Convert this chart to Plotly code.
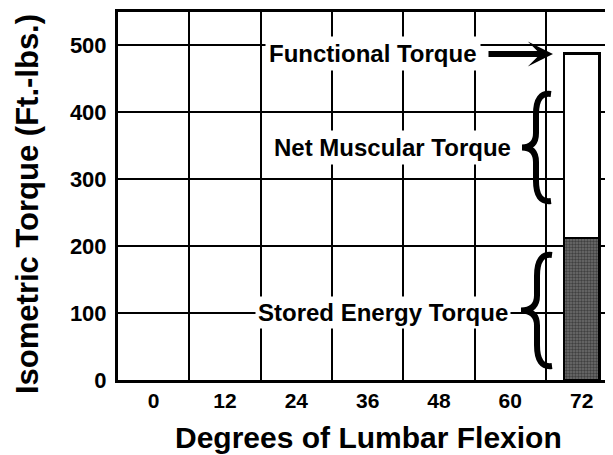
import plotly.graph_objects as go

# ---- data ----
categories = ["0", "12", "24", "36", "48", "60", "72"]
stored_energy = [None, None, None, None, None, None, 212]
net_muscular = [None, None, None, None, None, None, 275]
y_ticks = [0, 100, 200, 300, 400, 500]

# ---- layout geometry ----
# The page body has an 8px default margin, so the figure is shrunk and
# all reference pixel positions are shifted by that offset.
OFF = 8
W, H = 613 - OFF, 455 - OFF
L, T = 118 - OFF, 12 - OFF
BOTTOM = 380 - OFF
R = 0
B = H - BOTTOM
PW, PH = W - L - R, H - T - B


def px(x):
    return (x - OFF - L) / PW


def py(y):
    return (BOTTOM - (y - OFF)) / PH


def brace_path(xt, xv, x1, yt, yb):
    h = yb - yt
    ym = (yt + yb) / 2
    pts = [
        ("M", [(x1, yt + 2)]),
        ("Q", [(xv, yt), (xv, yt + 0.2 * h)]),
        ("L", [(xv, ym - 0.13 * h)]),
        ("Q", [(xv, ym), (xt, ym)]),
        ("Q", [(xv, ym), (xv, ym + 0.13 * h)]),
        ("L", [(xv, yb - 0.2 * h)]),
        ("Q", [(xv, yb), (x1, yb - 2)]),
    ]
    s = ""
    for cmd, ps in pts:
        s += cmd + " ".join(f"{px(a):.5f},{py(b):.5f}" for a, b in ps) + " "
    return s.strip()


FONT = "Liberation Sans, Arial, Helvetica, sans-serif"

fig = go.Figure()
fig.add_trace(go.Bar(
    x=categories, y=stored_energy, width=0.5,
    marker=dict(
        color="#666666",
        line=dict(color="black", width=2.5),
        pattern=dict(shape=".", fgcolor="#111111", bgcolor="#6e6e6e", size=3, solidity=0.5),
    ),
    showlegend=False, hoverinfo="skip",
))
fig.add_trace(go.Bar(
    x=categories, y=net_muscular, width=0.5,
    marker=dict(color="white", line=dict(color="black", width=2.5)),
    showlegend=False, hoverinfo="skip",
))

shapes = [
    dict(type="path", xref="paper", yref="paper",
         path=brace_path(522, 536, 551, 92, 203),
         line=dict(color="black", width=6), layer="above"),
    dict(type="path", xref="paper", yref="paper",
         path=brace_path(521, 537, 552, 253, 368),
         line=dict(color="black", width=6), layer="above"),
]

ann_font = dict(family=FONT, size=24, color="black", weight="bold")
annotations = [
    dict(text="Functional Torque", x=px(373), y=py(54), xref="paper", yref="paper",
         showarrow=False, font=ann_font, bgcolor="white", borderpad=3,
         xanchor="center", yanchor="middle"),
    dict(text="", x=px(553), y=py(54), xref="paper", yref="paper",
         showarrow=True, ax=-66, ay=0, arrowhead=3, arrowsize=0.7, arrowwidth=6,
         arrowcolor="black"),
    dict(text="Net Muscular Torque", x=px(392), y=py(147), xref="paper", yref="paper",
         showarrow=False, font=ann_font, bgcolor="white", borderpad=3,
         xanchor="center", yanchor="middle"),
    dict(text="Stored Energy Torque", x=px(383), y=py(312), xref="paper", yref="paper",
         showarrow=False, font=ann_font, bgcolor="white", borderpad=2,
         xanchor="center", yanchor="middle"),
    # axis titles
    dict(text="Degrees of Lumbar Flexion", x=px(368), y=py(437), xref="paper", yref="paper",
         showarrow=False, font=dict(family=FONT, size=30, color="black", weight="bold"),
         xanchor="center", yanchor="middle"),
    dict(text="Isometric Torque (Ft.-lbs.)", x=px(27), y=py(204), xref="paper", yref="paper",
         showarrow=False, textangle=-90,
         font=dict(family=FONT, size=31, color="black", weight="bold"),
         xanchor="center", yanchor="middle"),
]

fig.update_layout(
    width=W, height=H,
    margin=dict(l=L, r=R, t=T, b=B, pad=0),
    paper_bgcolor="white", plot_bgcolor="white",
    barmode="stack",
    font=dict(family=FONT, color="black"),
    shapes=shapes,
    annotations=annotations,
    xaxis=dict(
        type="category", categoryorder="array", categoryarray=categories,
        range=[-0.5, 6.44],
        tickson="boundaries", ticks="",
        showgrid=True, gridcolor="black", gridwidth=2,
        showline=True, linecolor="black", linewidth=3, mirror=True,
        tickfont=dict(family=FONT, size=21, color="black", weight="bold"),
        ticklabelstandoff=0,
        fixedrange=True,
    ),
    yaxis=dict(
        range=[0, 549], tickvals=y_ticks,
        ticks="",
        showgrid=True, gridcolor="black", gridwidth=2,
        zeroline=False,
        showline=True, linecolor="black", linewidth=3, mirror=False,
        tickfont=dict(family=FONT, size=22, color="black", weight="bold"),
        ticklabelstandoff=4,
        fixedrange=True,
    ),
)

fig.write_html("out.html", config={"displayModeBar": False})
